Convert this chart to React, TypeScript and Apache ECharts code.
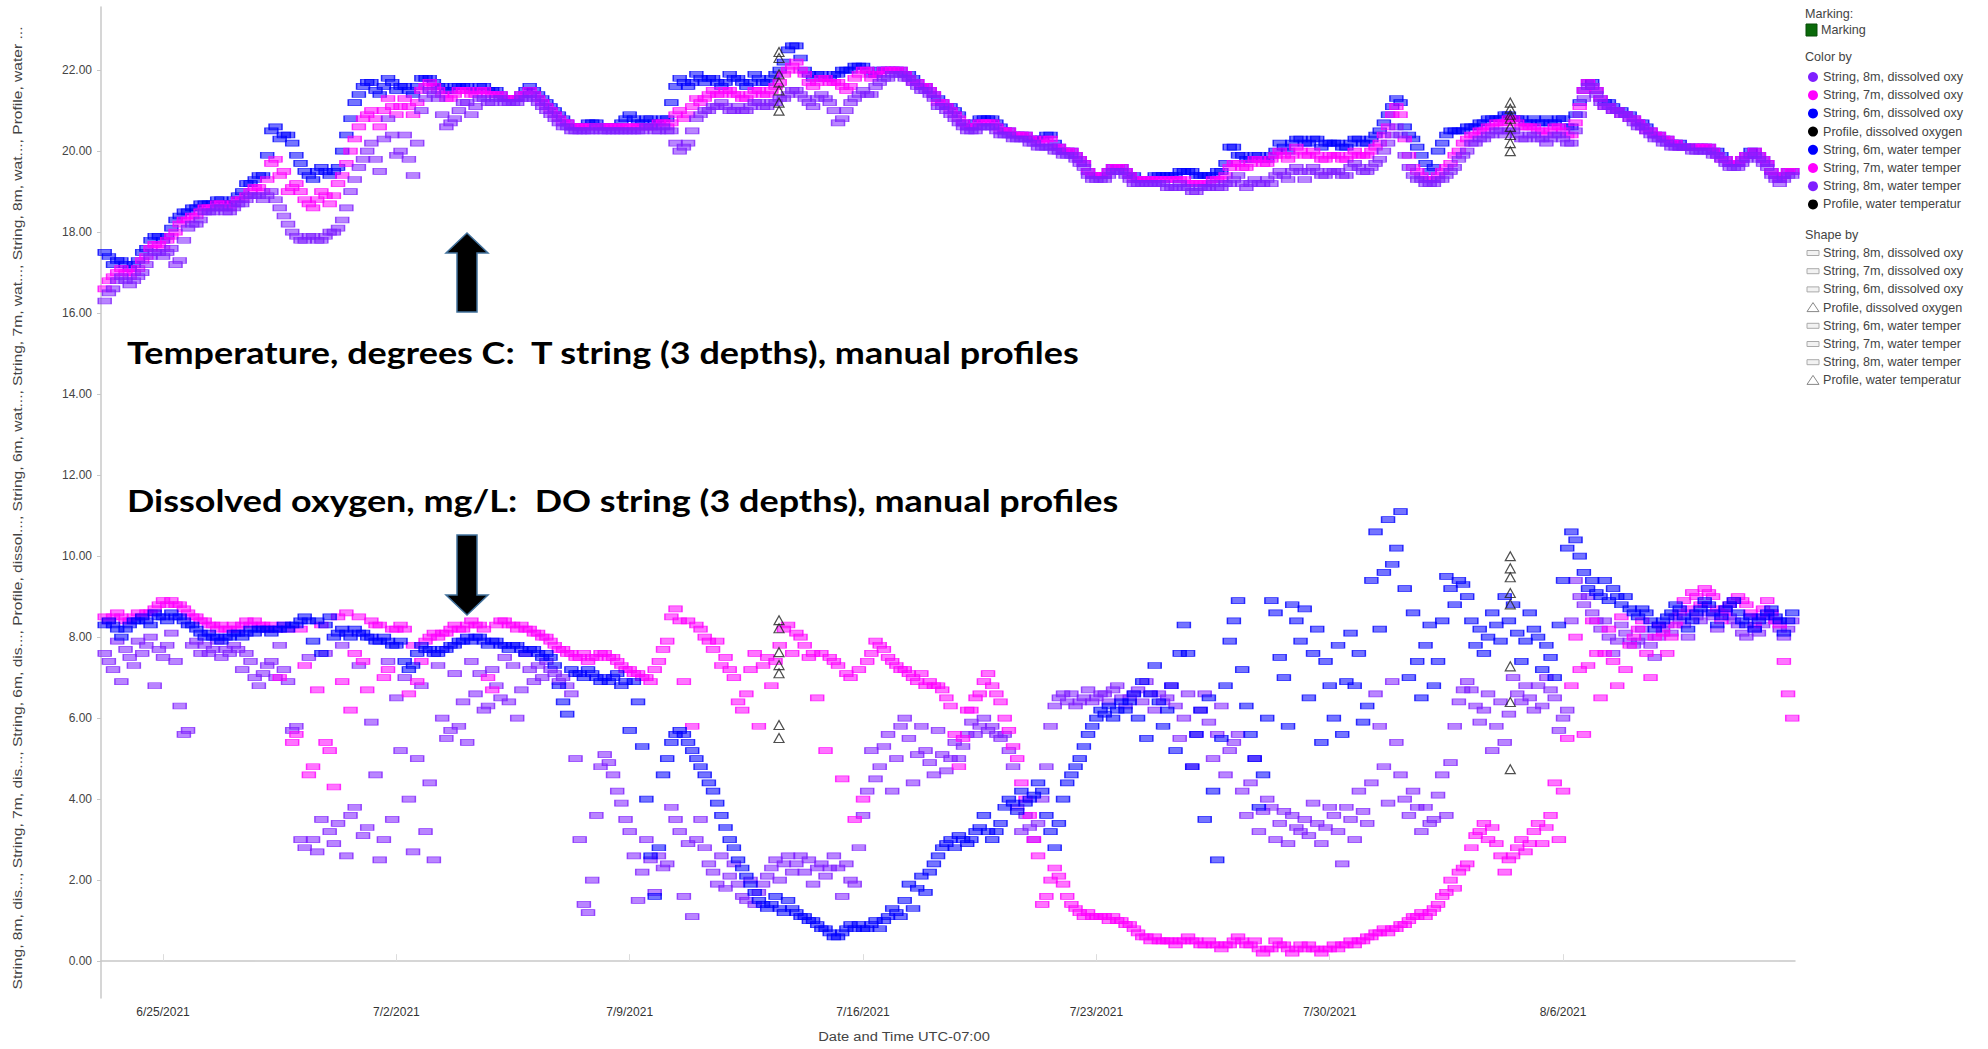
import React, { useEffect, useRef } from "react";
import * as echarts from "echarts";

const H = 3600 * 1000;
const SERIES_START = Date.UTC(2021, 5, 23, 6, 0, 0);
const STEP_H = 3;
const X_MIN = Date.UTC(2021, 5, 23, 3, 20);
const X_MAX = Date.UTC(2021, 7, 12, 23, 0);
const Y_MIN = -0.91;
const Y_MAX = 23.56;

const xTickLabels = ["6/25/2021", "7/2/2021", "7/9/2021", "7/16/2021", "7/23/2021", "7/30/2021", "8/6/2021"];
const yTickValues = [0, 2, 4, 6, 8, 10, 12, 14, 16, 18, 20, 22];

// Water temperature, 3-hour samples from 6/23 06:00 (one row per day)
const temp6m = [
  17.5, 17.4, 17.2, 17.3, 17.3, 17.2, 17.1, 17.2,
  17.3, 17.5, 17.6, 17.8, 17.9, 17.9, 17.8, 17.9,
  18.1, 18.3, 18.4, 18.5, 18.5, 18.6, 18.6, 18.7,
  18.7, 18.7, 18.7, 18.8, 18.8, 18.7, 18.7, 18.8,
  18.9, 19.0, 19.2, 19.2, 19.3, 19.4, 19.4, 19.9,
  20.5, 20.6, 20.3, 20.4, 20.4, 20.2, 19.9, 19.7,
  19.5, 19.4, 19.3, 19.5, 19.6, 19.5, 19.4, 19.5,
  19.6, 20.0, 20.4, 20.8, 21.2, 21.4, 21.6, 21.7,
  21.7, 21.5, 21.4, 21.6, 21.8, 21.7, 21.5, 21.6,
  21.6, 21.5, 21.4, 21.6, 21.8, 21.8, 21.8, 21.7,
  21.6, 21.6, 21.5, 21.5, 21.6, 21.6, 21.6, 21.6,
  21.5, 21.5, 21.6, 21.6, 21.5, 21.5, 21.5, 21.4,
  21.3, 21.3, 21.3, 21.3, 21.4, 21.5, 21.6, 21.5,
  21.4, 21.3, 21.2, 21.1, 21.0, 20.9, 20.8, 20.7,
  20.6, 20.6, 20.6, 20.6, 20.7, 20.7, 20.7, 20.6,
  20.6, 20.6, 20.6, 20.6, 20.7, 20.8, 20.9, 20.8,
  20.7, 20.7, 20.8, 20.8, 20.7, 20.7, 20.8, 20.8,
  21.2, 21.6, 21.8, 21.7, 21.6, 21.7, 21.9, 21.8,
  21.7, 21.8, 21.8, 21.7, 21.6, 21.7, 21.9, 21.8,
  21.8, 21.7, 21.6, 21.7, 21.9, 21.8, 21.7, 21.7,
  21.8, 21.9, 22.0, 22.2, 22.5, 22.6, 22.6, 22.3,
  22.0, 21.9, 21.8, 21.9, 21.9, 21.8, 21.8, 21.9,
  21.9, 22.0, 22.0, 22.0, 22.1, 22.1, 22.1, 22.0,
  21.9, 21.9, 22.0, 22.0, 22.0, 22.0, 22.0, 22.0,
  21.9, 21.9, 21.8, 21.7, 21.6, 21.6, 21.5, 21.4,
  21.3, 21.2, 21.1, 21.1, 21.0, 20.9, 20.7, 20.6,
  20.6, 20.7, 20.8, 20.8, 20.8, 20.8, 20.7, 20.6,
  20.5, 20.5, 20.4, 20.4, 20.4, 20.4, 20.3, 20.3,
  20.3, 20.3, 20.4, 20.4, 20.2, 20.1, 20.0, 20.0,
  20.0, 19.9, 19.8, 19.7, 19.5, 19.4, 19.4, 19.4,
  19.4, 19.5, 19.6, 19.6, 19.6, 19.5, 19.4, 19.4,
  19.3, 19.3, 19.3, 19.3, 19.4, 19.4, 19.4, 19.4,
  19.4, 19.4, 19.5, 19.5, 19.5, 19.5, 19.4, 19.4,
  19.4, 19.4, 19.4, 19.5, 19.5, 19.7, 20.1, 20.1,
  19.9, 19.9, 19.8, 19.8, 19.9, 19.9, 19.8, 19.8,
  19.9, 20.0, 20.2, 20.1, 20.0, 20.2, 20.3, 20.3,
  20.2, 20.2, 20.3, 20.3, 20.1, 20.2, 20.2, 20.2,
  20.2, 20.1, 20.1, 20.2, 20.3, 20.3, 20.2, 20.2,
  20.3, 20.4, 20.5, 20.7, 20.9, 21.1, 21.3, 21.2,
  20.6, 20.4, 20.3, 20.1, 19.9, 19.7, 19.5, 19.6,
  20.0, 20.2, 20.4, 20.5, 20.5, 20.5, 20.5, 20.6,
  20.6, 20.6, 20.7, 20.7, 20.8, 20.8, 20.8, 20.8,
  20.9, 20.9, 20.8, 20.8, 20.8, 20.7, 20.7, 20.8,
  20.7, 20.7, 20.8, 20.7, 20.7, 20.8, 20.8, 20.6,
  20.6, 20.9, 21.2, 21.5, 21.7, 21.7, 21.5, 21.3,
  21.2, 21.2, 21.1, 21.0, 21.0, 20.9, 20.9, 20.8,
  20.7, 20.7, 20.6, 20.5, 20.4, 20.4, 20.3, 20.3,
  20.2, 20.2, 20.2, 20.1, 20.1, 20.1, 20.1, 20.1,
  20.1, 20.1, 20.0, 20.0, 19.9, 19.8, 19.7, 19.7,
  19.7, 19.8, 19.9, 20.0, 20.0, 19.9, 19.8, 19.7,
  19.5, 19.4, 19.3, 19.4, 19.5, 19.5,
];

const temp7m = [
  16.6, 16.8, 16.9, 17.0, 17.1, 17.0, 16.9, 17.0,
  17.1, 17.3, 17.4, 17.6, 17.7, 17.7, 17.6, 17.8,
  17.9, 18.0, 18.2, 18.3, 18.3, 18.4, 18.4, 18.5,
  18.6, 18.6, 18.6, 18.7, 18.7, 18.6, 18.6, 18.7,
  18.8, 18.8, 18.9, 19.0, 19.1, 19.1, 19.0, 19.3,
  19.7, 19.8, 19.4, 19.5, 19.0, 19.1, 19.2, 19.0,
  18.8, 18.7, 18.6, 18.8, 19.0, 18.9, 18.7, 18.9,
  19.2, 19.4, 19.7, 20.0, 20.3, 20.6, 20.8, 20.9,
  21.0, 20.8, 20.6, 21.0, 21.3, 21.1, 20.9, 21.1,
  21.3, 21.1, 20.9, 21.2, 21.5, 21.6, 21.7, 21.6,
  21.5, 21.4, 21.3, 21.3, 21.4, 21.5, 21.5, 21.5,
  21.4, 21.4, 21.5, 21.5, 21.4, 21.4, 21.4, 21.4,
  21.3, 21.3, 21.3, 21.3, 21.4, 21.4, 21.5, 21.4,
  21.3, 21.2, 21.1, 21.0, 20.9, 20.8, 20.7, 20.7,
  20.6, 20.6, 20.6, 20.6, 20.6, 20.6, 20.6, 20.6,
  20.6, 20.6, 20.6, 20.6, 20.6, 20.6, 20.6, 20.6,
  20.6, 20.6, 20.6, 20.6, 20.6, 20.7, 20.7, 20.6,
  20.7, 20.9, 21.0, 20.8, 20.9, 21.1, 21.3, 21.2,
  21.3, 21.4, 21.5, 21.4, 21.4, 21.5, 21.5, 21.4,
  21.4, 21.3, 21.3, 21.4, 21.5, 21.5, 21.4, 21.4,
  21.5, 21.6, 21.7, 21.9, 22.0, 22.1, 22.2, 22.0,
  21.9, 21.7, 21.6, 21.7, 21.8, 21.8, 21.7, 21.7,
  21.7, 21.6, 21.5, 21.6, 21.8, 21.9, 22.0, 22.0,
  21.8, 21.9, 21.9, 22.0, 22.0, 22.0, 22.0, 22.0,
  21.9, 21.8, 21.7, 21.7, 21.6, 21.6, 21.5, 21.4,
  21.2, 21.2, 21.1, 21.0, 20.9, 20.8, 20.7, 20.6,
  20.6, 20.6, 20.7, 20.7, 20.7, 20.7, 20.6, 20.5,
  20.5, 20.5, 20.4, 20.4, 20.4, 20.4, 20.3, 20.3,
  20.2, 20.2, 20.3, 20.3, 20.1, 20.1, 20.0, 20.0,
  20.0, 19.9, 19.8, 19.7, 19.5, 19.4, 19.4, 19.4,
  19.4, 19.5, 19.6, 19.6, 19.6, 19.5, 19.4, 19.3,
  19.3, 19.3, 19.3, 19.3, 19.3, 19.3, 19.3, 19.3,
  19.3, 19.3, 19.3, 19.3, 19.2, 19.2, 19.2, 19.2,
  19.2, 19.2, 19.3, 19.3, 19.3, 19.4, 19.6, 19.7,
  19.7, 19.6, 19.6, 19.7, 19.8, 19.8, 19.7, 19.7,
  19.8, 19.9, 20.0, 19.9, 19.8, 19.9, 20.1, 20.0,
  19.9, 19.9, 20.0, 19.9, 19.8, 19.8, 19.9, 19.9,
  19.9, 19.8, 19.8, 19.9, 20.0, 19.9, 19.9, 19.9,
  20.0, 20.1, 20.2, 20.4, 20.6, 20.9, 21.1, 20.9,
  20.3, 19.9, 19.6, 19.5, 19.4, 19.3, 19.3, 19.3,
  19.4, 19.5, 19.6, 19.7, 19.9, 20.0, 20.2, 20.3,
  20.4, 20.4, 20.5, 20.5, 20.6, 20.6, 20.7, 20.7,
  20.7, 20.8, 20.8, 20.7, 20.6, 20.6, 20.6, 20.6,
  20.5, 20.5, 20.4, 20.5, 20.6, 20.6, 20.5, 20.4,
  20.4, 20.7, 21.1, 21.5, 21.7, 21.6, 21.5, 21.3,
  21.1, 21.1, 21.0, 21.0, 20.9, 20.9, 20.8, 20.8,
  20.7, 20.6, 20.5, 20.5, 20.4, 20.4, 20.3, 20.3,
  20.2, 20.2, 20.1, 20.1, 20.1, 20.1, 20.1, 20.1,
  20.1, 20.1, 20.0, 19.9, 19.8, 19.8, 19.7, 19.7,
  19.7, 19.8, 19.9, 19.9, 20.0, 19.9, 19.8, 19.7,
  19.5, 19.4, 19.3, 19.4, 19.5, 19.5,
];

const temp8m = [
  16.3, 16.5, 16.6, 16.8, 16.9, 16.8, 16.7, 16.8,
  16.9, 17.0, 17.2, 17.4, 17.5, 17.5, 17.4, 17.5,
  17.6, 17.2, 17.3, 17.8, 18.1, 18.2, 18.2, 18.3,
  18.5, 18.5, 18.5, 18.6, 18.6, 18.5, 18.5, 18.6,
  18.7, 18.7, 18.8, 18.9, 18.9, 18.9, 18.8, 18.9,
  19.0, 18.8, 18.6, 18.4, 18.2, 18.0, 17.9, 17.8,
  17.8, 17.9, 17.9, 17.8, 17.8, 17.9, 18.0, 18.0,
  18.1, 18.3, 18.6, 19.0, 19.3, 19.6, 19.8, 20.0,
  20.2, 19.8, 19.5, 20.3, 20.8, 20.4, 19.9, 20.0,
  20.4, 19.8, 19.4, 20.2, 21.0, 21.3, 21.5, 21.4,
  21.3, 20.9, 20.6, 20.7, 20.8, 21.0, 21.2, 21.2,
  20.9, 21.1, 21.3, 21.3, 21.2, 21.2, 21.3, 21.3,
  21.2, 21.2, 21.2, 21.2, 21.3, 21.3, 21.4, 21.3,
  21.2, 21.1, 21.0, 20.9, 20.8, 20.7, 20.6, 20.6,
  20.5, 20.5, 20.5, 20.5, 20.5, 20.5, 20.6, 20.5,
  20.5, 20.5, 20.5, 20.5, 20.5, 20.5, 20.5, 20.5,
  20.5, 20.5, 20.6, 20.6, 20.5, 20.5, 20.6, 20.5,
  20.5, 20.2, 20.0, 20.1, 20.2, 20.5, 20.8, 20.9,
  21.0, 21.0, 21.1, 21.1, 21.2, 21.1, 21.0, 21.0,
  21.1, 21.0, 21.0, 21.1, 21.2, 21.2, 21.1, 21.1,
  21.2, 21.2, 21.3, 21.3, 21.4, 21.5, 21.5, 21.4,
  21.3, 21.2, 21.1, 21.3, 21.4, 21.3, 21.2, 21.0,
  20.7, 20.8, 21.0, 21.2, 21.3, 21.4, 21.5, 21.4,
  21.4, 21.6, 21.7, 21.8, 21.8, 21.9, 21.9, 21.9,
  21.8, 21.8, 21.7, 21.6, 21.5, 21.5, 21.4, 21.3,
  21.1, 21.1, 21.0, 20.9, 20.8, 20.7, 20.6, 20.5,
  20.5, 20.5, 20.6, 20.6, 20.6, 20.6, 20.5, 20.4,
  20.4, 20.4, 20.3, 20.3, 20.3, 20.3, 20.2, 20.2,
  20.1, 20.1, 20.1, 20.1, 20.0, 20.0, 19.9, 19.9,
  19.9, 19.8, 19.7, 19.6, 19.4, 19.3, 19.3, 19.3,
  19.3, 19.4, 19.5, 19.5, 19.5, 19.4, 19.3, 19.2,
  19.2, 19.2, 19.2, 19.2, 19.2, 19.2, 19.2, 19.1,
  19.1, 19.1, 19.2, 19.1, 19.1, 19.0, 19.0, 19.1,
  19.1, 19.1, 19.2, 19.1, 19.1, 19.2, 19.2, 19.3,
  19.4, 19.2, 19.1, 19.2, 19.3, 19.2, 19.2, 19.3,
  19.2, 19.4, 19.5, 19.4, 19.3, 19.5, 19.6, 19.5,
  19.3, 19.5, 19.6, 19.5, 19.4, 19.4, 19.5, 19.5,
  19.5, 19.4, 19.4, 19.6, 19.7, 19.6, 19.5, 19.5,
  19.6, 19.7, 19.8, 20.0, 20.2, 20.4, 20.6, 20.4,
  19.9, 19.6, 19.4, 19.3, 19.3, 19.2, 19.2, 19.2,
  19.3, 19.3, 19.4, 19.5, 19.6, 19.8, 19.9, 20.0,
  20.2, 20.2, 20.3, 20.3, 20.4, 20.4, 20.5, 20.5,
  20.4, 20.5, 20.5, 20.4, 20.3, 20.3, 20.4, 20.4,
  20.3, 20.3, 20.2, 20.3, 20.4, 20.4, 20.3, 20.2,
  20.2, 20.5, 20.9, 21.3, 21.6, 21.6, 21.4, 21.2,
  21.1, 21.1, 21.0, 21.0, 20.9, 20.9, 20.8, 20.7,
  20.6, 20.6, 20.5, 20.4, 20.3, 20.3, 20.2, 20.2,
  20.1, 20.1, 20.1, 20.1, 20.1, 20.0, 20.0, 20.0,
  20.0, 20.0, 19.9, 19.9, 19.8, 19.7, 19.6, 19.6,
  19.6, 19.7, 19.8, 19.9, 19.9, 19.8, 19.7, 19.6,
  19.4, 19.3, 19.2, 19.3, 19.4, 19.4,
];

// Dissolved oxygen, 3-hour samples from 6/23 06:00 (one row per day)
const do8m = [
  7.6, 7.4, 7.2, 7.9, 6.9, 7.7, 7.5, 7.3,
  7.9, 7.6, 7.8, 8.0, 6.8, 7.7, 7.5, 7.8,
  8.1, 7.4, 6.3, 5.6, 5.7, 7.8, 7.9, 7.6,
  7.8, 7.6, 7.7, 7.9, 7.5, 7.7, 7.6, 7.8,
  7.7, 7.2, 7.6, 7.4, 7.0, 6.8, 7.1, 7.3,
  7.4, 7.0, 7.8, 7.2, 6.9, 5.7, 5.8, 3.0,
  2.8, 7.5, 3.0, 2.7, 3.5, 7.6, 3.2, 2.9,
  3.4, 7.8, 2.6, 3.6, 3.8, 7.3, 3.1, 3.3,
  5.9, 4.6, 2.5, 3.0, 7.4, 3.5, 6.5, 5.2,
  7.0, 4.0, 2.7, 5.0, 6.8, 3.2, 4.4, 2.5,
  7.3, 6.0, 5.5, 5.7, 7.1, 5.8, 6.4, 5.4,
  7.4, 6.6, 7.1, 6.2, 6.3, 7.2, 6.8, 6.5,
  7.5, 6.4, 7.3, 6.0, 6.7, 7.6, 7.2, 6.9,
  7.3, 7.0, 7.4, 7.2, 7.1, 6.9, 7.0, 6.8,
  6.6, 5.0, 3.0, 1.4, 1.2, 2.0, 3.6, 4.8,
  5.1, 4.9, 4.6, 4.2, 3.9, 3.5, 3.2, 2.6,
  1.5, 2.2, 3.0, 2.5, 1.7, 2.6, 2.3, 2.4,
  3.8, 3.5, 3.2, 1.6, 2.9, 1.1, 3.0, 3.5,
  2.8, 2.4, 2.2, 1.9, 2.6, 1.8, 2.1, 2.4,
  1.9, 1.6, 1.5, 2.0, 1.4, 1.7, 1.9, 2.1,
  2.3, 2.5, 2.0, 2.4, 2.6, 2.2, 2.4, 2.6,
  2.2, 2.5, 1.9, 2.3, 2.4, 2.1, 2.3, 2.6,
  2.3, 1.6, 2.4, 2.0, 1.9, 2.8, 3.6, 4.2,
  5.2, 4.5, 4.8, 5.3, 5.6, 4.2, 5.0, 5.8,
  6.0, 5.5, 4.4, 5.1, 5.8, 5.2, 4.9, 4.6,
  5.7, 5.1, 4.7, 5.0, 5.4, 5.0, 5.3, 5.6,
  5.9, 5.6, 5.8, 6.0, 5.7, 5.8, 5.6, 5.5,
  5.6, 5.2, 4.8, 3.8, 3.2, 3.6, 3.3, 3.0,
  3.4, 4.0, 4.8, 5.8, 6.3, 6.5, 6.6, 6.4,
  6.6, 6.3, 6.4, 6.5, 6.7, 6.4, 6.5, 6.6,
  6.6, 6.4, 6.7, 6.8, 6.5, 6.3, 6.5, 6.6,
  6.7, 6.4, 6.9, 6.6, 6.2, 6.6, 6.4, 6.5,
  6.8, 6.3, 5.5, 6.0, 6.6, 4.8, 5.6, 6.2,
  6.6, 5.9, 5.0, 5.6, 6.3, 4.6, 5.2, 5.4,
  5.6, 4.2, 3.6, 4.4, 5.0, 3.2, 3.7, 4.0,
  3.8, 3.0, 3.4, 3.7, 2.9, 3.6, 3.3, 3.2,
  3.5, 3.1, 3.9, 3.4, 2.9, 3.3, 3.8, 3.6,
  3.2, 2.4, 3.8, 3.5, 3.0, 4.2, 3.7, 3.4,
  4.4, 6.6, 5.8, 4.8, 3.9, 6.9, 5.4, 4.6,
  4.0, 3.6, 4.2, 3.8, 3.2, 3.8, 3.4, 3.5,
  4.1, 4.6, 3.6, 4.9, 5.8, 6.4, 6.7, 6.9,
  6.7, 6.3, 5.9, 6.2, 6.6, 5.2, 5.8, 6.4,
  5.4, 6.1, 7.0, 6.6, 6.4, 6.8, 6.5, 6.2,
  6.8, 6.3, 7.0, 6.7, 6.5, 5.7, 6.0, 6.2,
  8.4, 9.4, 9.0, 8.8, 9.0, 8.6, 8.4, 8.2,
  8.4, 8.0, 7.6, 7.9, 8.3, 8.1, 7.9, 7.8,
  7.9, 8.2, 8.0, 7.8, 7.5, 8.0, 8.2, 8.3,
  8.1, 8.5, 8.4, 8.3, 8.0, 8.6, 8.5, 8.4,
  8.8, 8.6, 8.5, 8.2, 8.6, 8.7, 8.5, 8.4,
  8.3, 8.1, 8.0, 8.5, 8.2, 8.1, 8.3, 8.5,
  8.6, 8.4, 8.2, 8.0, 8.2, 8.4,
];

const do7m = [
  8.5, 8.4, 8.5, 8.6, 8.5, 8.4, 8.4, 8.5,
  8.6, 8.5, 8.6, 8.6, 8.7, 8.8, 8.9, 8.8,
  8.9, 8.8, 8.8, 8.7, 8.6, 8.5, 8.5, 8.4,
  8.4, 8.3, 8.3, 8.2, 8.3, 8.2, 8.2, 8.3,
  8.2, 8.3, 8.4, 8.3, 8.4, 8.3, 8.3, 8.2,
  8.3, 8.2, 7.0, 8.3, 8.2, 5.4, 5.6, 8.2,
  7.3, 4.6, 4.8, 6.7, 8.3, 5.4, 5.2, 4.3,
  8.5, 6.9, 8.6, 6.2, 7.6, 8.5, 7.4, 6.7,
  8.4, 8.3, 8.3, 7.0, 7.2, 8.2, 8.2, 8.3,
  8.2, 6.6, 7.8, 6.9, 7.4, 7.9, 8.0, 8.1,
  8.0, 8.1, 8.1, 8.2, 8.3, 8.2, 8.2, 8.3,
  8.4, 8.3, 8.3, 8.2, 7.0, 6.7, 8.3, 8.4,
  8.4, 8.3, 8.3, 8.2, 8.3, 8.2, 8.2, 8.1,
  8.1, 8.0, 8.0, 7.9, 7.8, 7.7, 7.7, 7.6,
  7.6, 7.5, 7.5, 7.6, 7.4, 7.5, 7.5, 7.6,
  7.6, 7.5, 7.5, 7.4, 7.3, 7.2, 7.2, 7.1,
  7.1, 7.0, 7.0, 6.9, 7.2, 7.4, 7.7, 7.9,
  8.5, 8.7, 8.4, 6.9, 8.4, 5.8, 8.3, 8.2,
  8.0, 7.9, 7.7, 7.9, 7.3, 7.5, 7.2, 7.0,
  6.4, 6.2, 6.6, 7.2, 7.6, 5.8, 7.3, 7.5,
  6.8, 7.4, 7.8, 8.2, 8.3, 7.6, 8.1, 8.0,
  7.8, 7.5, 7.6, 6.5, 7.6, 5.2, 7.5, 7.4,
  7.3, 4.5, 7.1, 7.0, 3.5, 7.2, 4.0, 7.4,
  7.6, 7.9, 7.8, 7.7, 7.5, 7.4, 7.3, 7.2,
  7.2, 7.1, 7.0, 6.9, 7.1, 6.8, 6.9, 6.8,
  6.8, 6.7, 6.5, 6.3, 5.6, 4.8, 5.5, 6.2,
  6.2, 6.5, 6.6, 6.9, 7.1, 6.8, 6.6, 6.4,
  6.0, 5.7, 5.3, 5.0, 4.4, 4.0, 3.6, 3.0,
  2.6, 1.4, 1.6, 2.0, 2.3, 2.1, 1.9, 1.6,
  1.4, 1.3, 1.2, 1.1, 1.2, 1.1, 1.1, 1.1,
  1.1, 1.0, 1.1, 1.0, 1.0, 0.9, 0.9, 0.8,
  0.7, 0.6, 0.6, 0.5, 0.6, 0.5, 0.5, 0.5,
  0.5, 0.4, 0.5, 0.5, 0.6, 0.5, 0.5, 0.4,
  0.4, 0.5, 0.4, 0.4, 0.3, 0.4, 0.4, 0.5,
  0.6, 0.5, 0.4, 0.4, 0.5, 0.3, 0.2, 0.3,
  0.3, 0.5, 0.4, 0.4, 0.3, 0.2, 0.3, 0.4,
  0.3, 0.4, 0.3, 0.3, 0.2, 0.3, 0.3, 0.4,
  0.3, 0.4, 0.4, 0.5, 0.4, 0.5, 0.5, 0.6,
  0.6, 0.7, 0.7, 0.8, 0.7, 0.8, 0.8, 0.9,
  0.9, 1.0, 1.1, 1.1, 1.2, 1.1, 1.2, 1.3,
  1.4, 1.6, 1.7, 2.0, 1.8, 2.2, 2.3, 2.4,
  2.8, 3.1, 3.2, 3.4, 3.0, 3.3, 2.9, 2.6,
  2.2, 2.5, 2.6, 2.8, 3.0, 2.7, 2.9, 3.2,
  3.4, 2.9, 3.3, 3.6, 4.4, 3.0, 4.2, 5.5,
  6.8, 8.0, 7.2, 5.6, 7.3, 8.4, 7.6, 6.5,
  7.6, 8.2, 7.4, 6.8, 8.5, 7.2, 7.8, 8.0,
  8.2, 8.4, 7.6, 7.0, 8.0, 8.3, 8.1, 7.6,
  8.0, 8.3, 8.6, 8.9, 8.7, 9.1, 9.0, 8.8,
  9.2, 9.1, 9.0, 8.7, 8.4, 8.6, 8.8, 8.9,
  9.0, 8.9, 8.8, 8.6, 8.3, 8.5, 8.7, 8.9,
  8.6, 8.4, 8.3, 7.4, 6.6, 6.0,
];

const do6m = [
  8.3, 8.4, 8.3, 8.2, 8.0, 8.2, 8.3, 8.4,
  8.4, 8.5, 8.4, 8.3, 8.6, 8.5, 8.5, 8.4,
  8.6, 8.5, 8.5, 8.4, 8.3, 8.3, 8.2, 8.1,
  8.0, 8.1, 8.0, 8.0, 7.9, 8.0, 8.0, 8.1,
  8.1, 8.0, 8.1, 8.2, 8.1, 8.2, 8.2, 8.2,
  8.1, 8.2, 8.2, 8.3, 8.2, 8.3, 8.3, 8.4,
  8.5, 8.4, 7.9, 8.4, 7.6, 8.3, 8.5, 8.0,
  8.1, 8.2, 8.1, 8.0, 8.2, 8.1, 8.1, 8.0,
  8.0, 7.9, 7.9, 8.0, 7.9, 7.8, 7.8, 7.9,
  7.4, 7.2, 7.3, 7.6, 7.8, 7.7, 7.7, 7.6,
  7.6, 7.7, 7.7, 7.8, 7.8, 7.9, 7.9, 8.0,
  7.9, 8.0, 8.0, 7.9, 7.8, 7.9, 7.9, 7.8,
  7.8, 7.7, 7.8, 7.8, 7.7, 7.6, 7.7, 7.7,
  7.6, 7.5, 7.6, 7.5, 7.3, 6.8, 6.4, 6.1,
  7.2, 7.1, 7.1, 7.0, 7.2, 7.1, 7.0, 6.9,
  7.0, 6.9, 7.0, 7.1, 6.8, 6.9, 5.7, 6.9,
  6.4, 5.3, 4.0, 2.6, 1.6, 2.8, 4.6, 5.0,
  5.4, 5.6, 5.7, 5.6, 5.4, 5.2, 5.0, 4.8,
  4.6, 4.4, 4.2, 3.9, 3.6, 3.3, 3.0, 2.8,
  2.5, 2.3, 2.1, 1.9, 1.7, 1.5, 1.4, 1.3,
  1.4, 1.6, 1.3, 1.2, 1.5, 1.3, 1.2, 1.1,
  1.1, 1.0, 1.0, 0.9, 0.8, 0.8, 0.7, 0.6,
  0.6, 0.7, 0.8, 0.9, 0.8, 0.9, 0.8, 0.8,
  0.9, 1.0, 0.8, 1.0, 1.1, 1.3, 1.2, 1.1,
  1.5, 1.9, 1.3, 1.8, 2.1, 1.7, 2.2, 2.4,
  2.6, 2.8, 2.9, 3.0, 2.8, 3.1, 3.0, 2.9,
  3.0, 3.2, 3.3, 3.6, 3.2, 3.0, 3.2, 3.4,
  3.8, 4.0, 3.9, 3.7, 4.2, 3.9, 4.0, 4.1,
  4.4, 4.2, 3.6, 3.2, 2.8, 3.4, 4.0, 4.4,
  4.6, 4.8, 5.0, 5.3, 5.6, 5.8, 6.0, 6.2,
  6.1, 6.3, 6.0, 6.2, 6.4, 6.2, 6.4, 6.6,
  6.0, 6.9, 5.5, 6.6, 7.3, 6.4, 5.8, 6.2,
  6.8, 5.2, 7.6, 8.3, 7.6, 4.8, 5.6, 6.2,
  3.5, 6.5, 4.2, 2.5, 5.5, 6.8, 7.9, 8.4,
  8.9, 7.2, 6.3, 5.6, 5.0, 3.8, 4.6, 6.0,
  8.9, 8.6, 7.5, 7.0, 5.8, 8.8, 8.4, 7.9,
  8.7, 6.5, 7.6, 8.2, 5.4, 7.4, 6.8, 6.0,
  7.8, 5.6, 6.9, 8.1, 6.8, 7.6, 5.9, 6.3,
  9.4, 10.6, 8.2, 9.6, 10.9, 9.8, 10.2, 11.1,
  9.2, 7.0, 8.6, 7.4, 6.5, 7.8, 8.3, 6.8,
  7.4, 8.4, 9.5, 9.2, 8.8, 9.4, 9.3, 9.0,
  8.4, 7.8, 8.2, 7.6, 8.0, 8.6, 8.3, 7.9,
  9.0, 8.4, 8.8, 8.1, 7.4, 7.9, 8.6, 8.2,
  8.0, 7.2, 7.8, 7.5, 7.0, 8.3, 9.4, 10.2,
  10.6, 10.4, 10.0, 9.6, 9.2, 9.4, 9.1, 9.0,
  9.4, 8.9, 9.2, 9.0, 8.8, 9.0, 8.7, 8.6,
  8.5, 8.7, 8.6, 8.4, 8.2, 8.3, 8.4, 8.5,
  8.6, 8.8, 8.7, 8.5, 8.2, 8.4, 8.6, 8.7,
  8.9, 8.8, 8.6, 8.3, 8.5, 8.7, 8.8, 8.9,
  8.6, 8.4, 8.3, 8.5, 8.2, 8.4, 8.5, 8.6,
  8.7, 8.5, 8.4, 8.1, 8.4, 8.6,
];

// Manual profiles
const profileTimes = ["2021-07-13T11:30:00Z", "2021-08-04T10:00:00Z"];
const profileTempA = [22.45, 22.3, 21.9, 21.7, 21.5, 21.2, 21.0];
const profileTempB = [21.2, 21.05, 20.9, 20.8, 20.6, 20.4, 20.2, 20.0];
const profileDOA = [8.42, 8.22, 7.63, 7.31, 7.11, 5.83, 5.51];
const profileDOB = [10.0, 9.7, 9.48, 9.09, 8.81, 7.28, 6.4, 4.74];

const colorByLabels = [
  "String, 8m, dissolved oxy",
  "String, 7m, dissolved oxy",
  "String, 6m, dissolved oxy",
  "Profile, dissolved oxygen",
  "String, 6m, water temper",
  "String, 7m, water temper",
  "String, 8m, water temper",
  "Profile, water temperatur",
];

const yAxisTitle =
  "String, 8m, dis..., String, 7m, dis..., String, 6m, dis..., Profile, dissol..., String, 6m, wat..., String, 7m, wat..., String, 8m, wat..., Profile, water ...";

const PURPLE = "#7f1fff";
const MAGENTA = "#ff00ff";
const BLUE = "#0000ff";
const BLACK = "#000000";
const legendColors = [PURPLE, MAGENTA, BLUE, BLACK, BLUE, MAGENTA, PURPLE, BLACK];
const legendShapes = ["rect", "rect", "rect", "triangle", "rect", "rect", "rect", "triangle"];

function parseDate(s: string) {
  const [m, d, y] = s.split("/").map(Number);
  return Date.UTC(y, m - 1, d);
}
const xTickValues = xTickLabels.map(parseDate);

function toPairs(vals: number[]) {
  return vals.map((v, i) => [SERIES_START + i * STEP_H * H, v]);
}
function profilePairs(t: string, vals: number[]) {
  const ts = Date.parse(t);
  return vals.map((v) => [ts, v]);
}

function rgba(hex: string, a: number) {
  const n = parseInt(hex.slice(1), 16);
  return `rgba(${(n >> 16) & 255},${(n >> 8) & 255},${n & 255},${a})`;
}

function stringSeries(name: string, data: number[][], color: string) {
  return {
    name,
    type: "scatter",
    data,
    symbol: "rect",
    symbolSize: [13, 6],
    silent: true,
    clip: true,
    itemStyle: { color: rgba(color, 0.68), borderColor: color, borderWidth: 1 },
  };
}
function profileSeries(name: string, data: number[][]) {
  return {
    name,
    type: "scatter",
    data,
    symbol: "triangle",
    symbolSize: [10, 9],
    silent: true,
    itemStyle: { color: "rgba(255,255,255,0)", borderColor: "#222", borderWidth: 1.2 },
    z: 5,
  };
}

export default function App() {
  const ref = useRef<HTMLDivElement>(null);
  useEffect(() => {
    if (!ref.current) return;
    const chart = echarts.init(ref.current, undefined, { renderer: "svg" });
    const font = "Liberation Sans, Arial, sans-serif";
    const graphics: any[] = [];
    const lx = 1805;
    const legendFont = 12.6;
    const legendColor = "#444";
    const legText = (x: number, y: number, text: string) => ({
      type: "text",
      x,
      y,
      style: { text, fill: legendColor, fontSize: legendFont, fontFamily: font, textVerticalAlign: "middle" },
    });
    graphics.push(legText(lx, 14, "Marking:"));
    graphics.push({ type: "rect", shape: { x: 1806, y: 24, width: 11, height: 12 }, style: { fill: "#0a6a0a", stroke: "#064d06", lineWidth: 1 } });
    graphics.push(legText(1821, 30, "Marking"));
    graphics.push(legText(lx, 57, "Color by"));
    colorByLabels.forEach((lab, i) => {
      const y = 77 + i * 18.2;
      graphics.push({ type: "circle", shape: { cx: 1813, cy: y, r: 5 }, style: { fill: legendColors[i] } });
      graphics.push(legText(1823, y, lab));
    });
    graphics.push(legText(lx, 235, "Shape by"));
    colorByLabels.forEach((lab, i) => {
      const y = 253 + i * 18.2;
      if (legendShapes[i] === "rect") {
        graphics.push({ type: "rect", shape: { x: 1807, y: y - 2.5, width: 12, height: 5 }, style: { fill: "#f2f2f2", stroke: "#aaa", lineWidth: 1 } });
      } else {
        graphics.push({ type: "polygon", shape: { points: [[1813, y - 5], [1819, y + 4], [1807, y + 4]] }, style: { fill: "none", stroke: "#888", lineWidth: 1 } });
      }
      graphics.push(legText(1823, y, lab));
    });
    // y-axis title
    graphics.push({
      type: "text", x: 17, y: 508, rotation: Math.PI / 2, scaleX: 1.2,
      style: { text: yAxisTitle, fill: "#444", fontSize: 13, fontFamily: font, textAlign: "center", textVerticalAlign: "middle" },
    });
    // x-axis title
    graphics.push({
      type: "text", x: 904, y: 1036, scaleX: 1.09,
      style: { text: "Date and Time UTC-07:00", fill: "#444", fontSize: 13.5, fontFamily: font, textAlign: "center", textVerticalAlign: "middle" },
    });
    // annotations
    const annFont = "Lato, 'Open Sans', sans-serif";
    graphics.push({
      type: "text", x: 127, y: 352, scaleX: 1.16,
      style: { text: "Temperature, degrees C:  T string (3 depths), manual profiles", fill: "#000", fontSize: 31, fontWeight: "bold", fontFamily: annFont, textVerticalAlign: "middle" },
    });
    graphics.push({
      type: "text", x: 127, y: 500, scaleX: 1.16,
      style: { text: "Dissolved oxygen, mg/L:  DO string (3 depths), manual profiles", fill: "#000", fontSize: 31, fontWeight: "bold", fontFamily: annFont, textVerticalAlign: "middle" },
    });
    graphics.push({ type: "polygon", shape: { points: [[467, 233], [488, 253], [477, 253], [477, 312], [457, 312], [457, 253], [446, 253]] }, style: { fill: "#000", stroke: "#41719c", lineWidth: 1.5 } });
    graphics.push({ type: "polygon", shape: { points: [[457, 535], [477, 535], [477, 595], [488, 595], [467, 615], [446, 595], [457, 595]] }, style: { fill: "#000", stroke: "#41719c", lineWidth: 1.5 } });

    chart.setOption({
      animation: false,
      backgroundColor: "#fff",
      grid: { left: 101, right: 193, top: 7, bottom: 51, containLabel: false },
      xAxis: {
        type: "value",
        min: X_MIN,
        max: X_MAX,
        axisLine: { show: true, lineStyle: { color: "#c8c8c8", width: 1.5 } },
        axisTick: { show: true, inside: true, length: 7, customValues: xTickValues, lineStyle: { color: "#dcdcdc" } },
        axisLabel: {
          customValues: xTickValues,
          formatter: (v: number) => {
            const i = xTickValues.indexOf(v);
            return i >= 0 ? xTickLabels[i] : "";
          },
          color: "#333",
          fontSize: 12,
          fontFamily: font,
          margin: 8,
        },
        splitLine: { show: false },
      },
      yAxis: {
        type: "value",
        min: Y_MIN,
        max: Y_MAX,
        axisLine: { show: true, lineStyle: { color: "#c8c8c8", width: 1.5 } },
        axisTick: { show: true, length: 4, customValues: yTickValues, lineStyle: { color: "#c8c8c8" } },
        axisLabel: {
          customValues: yTickValues,
          formatter: (v: number) => v.toFixed(2),
          color: "#444",
          fontSize: 12,
          fontFamily: font,
          margin: 9,
        },
        splitLine: { show: false },
      },
      graphic: { elements: graphics },
      series: [
        stringSeries("String, 6m, water temper", toPairs(temp6m), BLUE),
        stringSeries("String, 7m, water temper", toPairs(temp7m), MAGENTA),
        stringSeries("String, 8m, water temper", toPairs(temp8m), PURPLE),
        stringSeries("String, 8m, dissolved oxy", toPairs(do8m), PURPLE),
        stringSeries("String, 7m, dissolved oxy", toPairs(do7m), MAGENTA),
        stringSeries("String, 6m, dissolved oxy", toPairs(do6m), BLUE),
        profileSeries("Profile, water temperatur", [...profilePairs(profileTimes[0], profileTempA), ...profilePairs(profileTimes[1], profileTempB)]),
        profileSeries("Profile, dissolved oxygen", [...profilePairs(profileTimes[0], profileDOA), ...profilePairs(profileTimes[1], profileDOB)]),
      ],
    });
    return () => chart.dispose();
  }, []);
  return <div ref={ref} style={{ position: "fixed", left: 0, top: 0, width: 1988, height: 1049, background: "#fff" }} />;
}
